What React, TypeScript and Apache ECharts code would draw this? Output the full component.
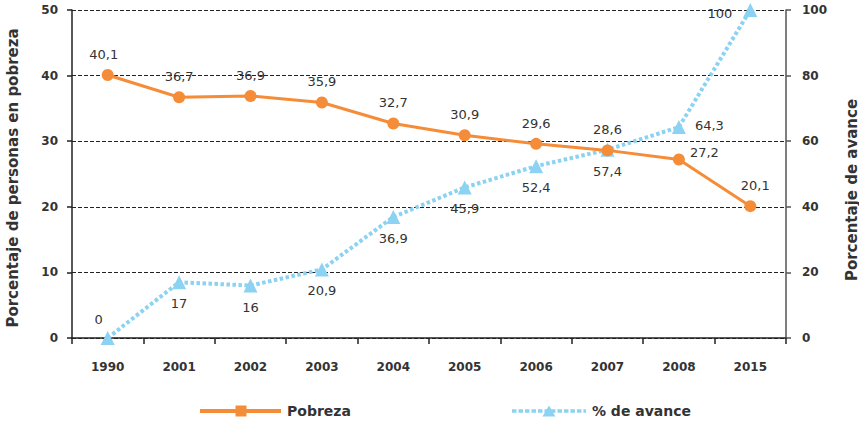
import React, { useEffect, useRef } from "react";
import * as echarts from "echarts";

const years = ["1990", "2001", "2002", "2003", "2004", "2005", "2006", "2007", "2008", "2015"];
const pobreza = [40.1, 36.7, 36.9, 35.9, 32.7, 30.9, 29.6, 28.6, 27.2, 20.1];
const avance = [0, 17, 16, 20.9, 36.9, 45.9, 52.4, 57.4, 64.3, 100];

// label placement (style only)
const pobrezaLabelPos: [string, number, number][] = [
  ["top", -4, -3], ["top", 0, -3], ["top", 0, -3], ["top", 0, -3], ["top", 0, -3],
  ["top", 0, -3], ["top", 0, -3], ["top", 0, -3], ["right", 0, -7], ["top", 5, -3],
];
const avanceLabelPos: [string, number, number][] = [
  ["top", -9, 0], ["bottom", 0, 3], ["bottom", 0, 3], ["bottom", 0, 3], ["bottom", 0, 3],
  ["bottom", 0, 3], ["bottom", 0, 3], ["bottom", 0, 3], ["right", 4, -2], ["left", -6, 3],
];

const ORANGE = "#F58C38";
const BLUE = "#8CD2F2";
const TEXT = "#333333";
const FONT = "DejaVu Sans, Verdana, sans-serif";

const fmt = (v: number) => String(v).replace(".", ",");

// legend icons: line + marker
const pobrezaIcon = "path://M0,3.5H81V7.5H0Z M35.5,0H46.5V11H35.5Z";
const avanceIcon = (() => {
  let d = "";
  for (let x = 0; x < 74; x += 6.5) {
    const w = Math.min(4.5, 74 - x);
    d += `M${x},3.75h${w}v3.5h${-w}Z `;
  }
  d += "M30.5,11L37,0L43.5,11Z M0,11h0.01v0.01h-0.01Z M73.99,0h0.01v0.01h-0.01Z";
  return "path://" + d;
})();

export default function App() {
  const ref = useRef<HTMLDivElement>(null);
  useEffect(() => {
    if (!ref.current) return;
    const chart = echarts.init(ref.current, undefined, { renderer: "svg" });
    const labelBase = { show: true, color: TEXT, fontSize: 13, fontFamily: FONT, formatter: (p: any) => fmt(p.value) };
    const axisLabel = { color: TEXT, fontSize: 12, fontWeight: "bold", fontFamily: FONT };
    const legendText = { fontSize: 14, fontWeight: "bold", color: TEXT, fontFamily: FONT, padding: [0, 0, 0, 1] };
    chart.setOption({
      animation: false,
      textStyle: { fontFamily: FONT },
      grid: { left: 72, right: 73, top: 10, bottom: 86, outerBoundsMode: "none", containLabel: false },
      legend: [
        {
          data: [{ name: "Pobreza", icon: pobrezaIcon }],
          left: 195, top: 399, itemWidth: 81, itemHeight: 11, itemGap: 6,
          textStyle: legendText,
        },
        {
          data: [{ name: "% de avance", icon: avanceIcon }],
          left: 507, top: 399, itemWidth: 74, itemHeight: 11, itemGap: 6,
          textStyle: legendText,
        },
      ],
      xAxis: {
        type: "category",
        data: years,
        boundaryGap: true,
        axisLine: { lineStyle: { color: "#222", width: 1.5 } },
        axisTick: { show: true, length: 6, lineStyle: { color: "#222", width: 1.5 } },
        axisLabel: { ...axisLabel, margin: 23 },
      },
      yAxis: [
        {
          type: "value",
          min: 0, max: 50, interval: 10,
          name: "Porcentaje de personas en pobreza",
          nameLocation: "middle",
          nameRotate: 90,
          nameGap: 52,
          nameTextStyle: { color: TEXT, fontSize: 15, fontWeight: "bold", fontFamily: FONT, padding: [0, 8, 0, 0] },
          axisLine: { show: true, lineStyle: { color: "#222", width: 1.5 } },
          axisTick: { show: true, length: 5, lineStyle: { color: "#222", width: 1.5 } },
          axisLabel: { ...axisLabel, margin: 14 },
          splitLine: { show: true, lineStyle: { color: "#222", type: [4, 2], width: 1 } },
        },
        {
          type: "value",
          min: 0, max: 100, interval: 20,
          position: "right",
          name: "Porcentaje de avance",
          nameLocation: "middle",
          nameRotate: 90,
          nameGap: 58,
          nameTextStyle: { color: TEXT, fontSize: 15, fontWeight: "bold", fontFamily: FONT, padding: [0, 32, 0, 0] },
          axisLine: { show: true, lineStyle: { color: "#555", width: 1.5 } },
          axisTick: { show: true, length: 5, lineStyle: { color: "#555", width: 1.5 } },
          axisLabel: { ...axisLabel, margin: 16 },
          splitLine: { show: false },
        },
      ],
      series: [
        {
          name: "Pobreza",
          type: "line",
          yAxisIndex: 0,
          symbol: "circle",
          symbolSize: 12,
          lineStyle: { color: ORANGE, width: 3 },
          itemStyle: { color: ORANGE },
          z: 3,
          data: pobreza.map((v, i) => ({
            value: v,
            label: { ...labelBase, position: pobrezaLabelPos[i][0], offset: [pobrezaLabelPos[i][1], pobrezaLabelPos[i][2]] },
          })),
        },
        {
          name: "% de avance",
          type: "line",
          yAxisIndex: 1,
          symbol: "triangle",
          symbolSize: 14,
          lineStyle: { color: BLUE, width: 4, type: [3.5, 2.5] },
          itemStyle: { color: BLUE },
          z: 2,
          data: avance.map((v, i) => ({
            value: v,
            label: { ...labelBase, position: avanceLabelPos[i][0], offset: [avanceLabelPos[i][1], avanceLabelPos[i][2]] },
          })),
        },
      ],
    });
    return () => chart.dispose();
  }, []);
  return <div ref={ref} style={{ position: "absolute", left: 0, top: 0, width: 859, height: 424 }} />;
}
